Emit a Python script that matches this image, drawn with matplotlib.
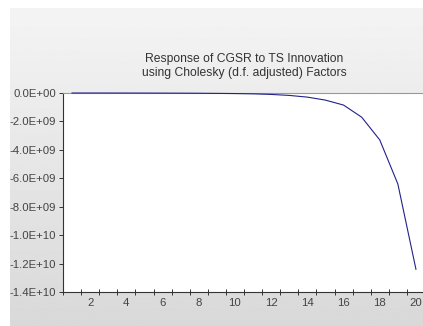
import numpy as np
import matplotlib
matplotlib.use("Agg")
import matplotlib.pyplot as plt
from matplotlib.ticker import FuncFormatter

# impulse response values (periods 1..20)
periods = np.arange(1, 21)
response = [0.0, -1e6, -2e6, -3e6, -5e6, -8e6, -1.2e7, -1.8e7, -2.7e7, -4e7,
            -6e7, -1.0e8, -1.7e8, -2.9e8, -5.0e8, -8.5e8,
            -1.7e9, -3.3e9, -6.4e9, -1.24e10]
yticks = [0, -2e9, -4e9, -6e9, -8e9, -1e10, -1.2e10, -1.4e10]
xticklabels = [2, 4, 6, 8, 10, 12, 14, 16, 18, 20]

plt.rcParams['font.family'] = ['Liberation Sans', 'DejaVu Sans']

fig = plt.figure(figsize=(4.23, 3.26), dpi=100)
fig.patch.set_facecolor("white")

# grey gradient panel behind the chart
bg = fig.add_axes([10/423, 0, 1 - 10/423, 1 - 8/326])
grad = np.linspace(0.955, 0.85, 256).reshape(-1, 1)
bg.imshow(grad, aspect="auto", cmap="gray", vmin=0, vmax=1, extent=[0, 1, 0, 1])
bg.axis("off")

ax = fig.add_axes([63/423, 1 - 292/326, (425 - 63)/423, (292 - 93)/326])
ax.set_facecolor("white")
ax.plot(periods, response, color="#22228a", lw=0.8, zorder=5, clip_on=False)

ax.set_xlim(0.5, 20.5)
ax.set_ylim(-1.4e10, 0)
ax.set_yticks(yticks)
ax.yaxis.set_major_formatter(FuncFormatter(
    lambda v, p: ("%.1E" % v).replace("-0.0", "0.0")))

# ticks at period boundaries, labels at even periods
ax.set_xticks(np.arange(0.5, 20.6, 1))
ax.set_xticklabels([])
ax.set_xticks(xticklabels, minor=True)
ax.set_xticklabels([str(v) for v in xticklabels], minor=True)
ax.tick_params(axis="x", which="major", direction="inout", length=5,
               width=0.7, color="#333333")
ax.tick_params(axis="x", which="minor", length=0, labelsize=8.2,
               labelcolor="#444444", pad=4)
ax.tick_params(axis="y", direction="out", length=3, width=0.7,
               color="#333333", labelsize=8.2, labelcolor="#444444", pad=2)

ax.spines["left"].set_color("#333333")
ax.spines["bottom"].set_color("#333333")
ax.spines["top"].set_color("#999999")
ax.spines["right"].set_visible(False)
for s in ["left", "bottom", "top"]:
    ax.spines[s].set_linewidth(0.8)

ax.text(0.5, 1.072, "Response of CGSR to TS Innovation\nusing Cholesky (d.f. adjusted) Factors",
        transform=ax.transAxes, ha="center", va="bottom", fontsize=8.7,
        color="#333333", linespacing=1.2)

fig.savefig("out.png", dpi=100, facecolor=fig.get_facecolor())
